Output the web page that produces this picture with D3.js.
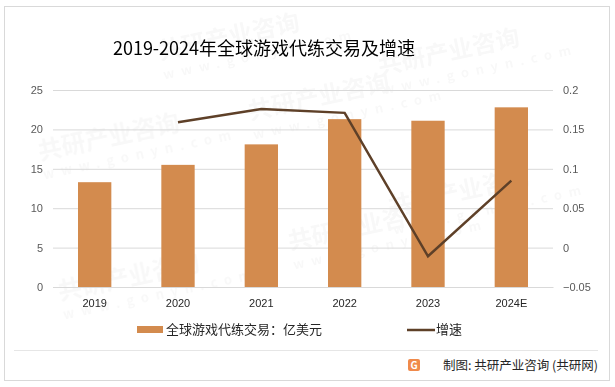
<!DOCTYPE html>
<meta charset='utf-8'>
<style>
  body { margin: 0; background: #fff; font-family: 'Noto Sans CJK SC', 'Noto Sans', sans-serif; }
  .axis text { fill: #595959; font-size: 11px; }
  .xaxis text { fill: #262626; font-size: 11px; }
  .grid line { stroke: #d9d9d9; }
</style>
<body>
<div id='viz'></div>
<script src='https://d3js.org/d3.v7.min.js'></script>
<script>

// chart data
var years  = ['2019', '2020', '2021', '2022', '2023', '2024E'];
var trade  = [13.3, 15.5, 18.1, 21.3, 21.1, 22.8];
var growth = [null, 0.159, 0.176, 0.171, -0.011, 0.085];
var leftTicks  = [0, 5, 10, 15, 20, 25];
var rightTicks = [-0.05, 0, 0.05, 0.1, 0.15, 0.2];

var W = 615, H = 387;
var margin = {top: 90, right: 62, bottom: 100, left: 53},
    width = W - margin.left - margin.right,
    height = H - margin.top - margin.bottom;

var svg = d3.select('#viz').append('svg')
    .attr('width', W)
    .attr('height', H);

// outer frame
svg.append('rect')
    .attr('x', 4.5).attr('y', 6.5)
    .attr('width', 605).attr('height', 374)
    .attr('fill', 'none').attr('stroke', '#d9d9d9');

// faint watermarks
var wm = svg.append('g').attr('fill', '#000').attr('opacity', 0.03)
    .attr('font-weight', 'bold');
[[40, 160], [250, 120], [380, 75], [60, 300], [290, 250], [390, 215], [160, 60]]
  .forEach(function(p) {
    var t = wm.append('g').attr('transform', 'translate(' + p[0] + ',' + p[1] + ') rotate(-12)');
    t.append('text').attr('font-size', 24).text('共研产业咨询');
    t.append('text').attr('y', 20).attr('font-size', 13).attr('letter-spacing', 7).text('www.gonyn.com');
  });

// title
svg.append('text')
    .attr('x', 264).attr('y', 55)
    .attr('text-anchor', 'middle')
    .attr('font-size', 18)
    .attr('fill', '#000')
    .text('2019-2024年全球游戏代练交易及增速');

var g = svg.append('g')
    .attr('transform', 'translate(' + margin.left + ',' + margin.top + ')');

var x = d3.scaleBand().domain(years).range([0, width]).paddingInner(0.6).paddingOuter(0.3);
var y = d3.scaleLinear().domain([0, 25]).range([height, 0]);
var y2 = d3.scaleLinear().domain([-0.05, 0.2]).range([height, 0]);

// gridlines
g.append('g')
    .attr('class', 'grid')
    .call(d3.axisLeft(y).tickValues(leftTicks).tickSize(-width).tickFormat(''))
    .call(function(s) { s.select('.domain').remove(); });

// left axis
g.append('g')
    .attr('class', 'axis')
    .call(d3.axisLeft(y).tickValues(leftTicks).tickSize(0).tickPadding(10))
    .call(function(s) { s.select('.domain').remove(); });

// right axis
g.append('g')
    .attr('class', 'axis')
    .attr('transform', 'translate(' + width + ',0)')
    .call(d3.axisRight(y2).tickValues(rightTicks).tickSize(0).tickPadding(10)
      .tickFormat(function(d) { return d3.format('')(+d.toFixed(2)); }))
    .call(function(s) { s.select('.domain').remove(); });

// x axis
g.append('g')
    .attr('class', 'xaxis')
    .attr('transform', 'translate(0,' + height + ')')
    .call(d3.axisBottom(x).tickSize(0).tickPadding(12))
    .call(function(s) { s.select('.domain').attr('stroke', '#d9d9d9'); });

// bars
g.selectAll('.bar')
    .data(trade)
    .enter().append('rect')
    .attr('class', 'bar')
    .attr('fill', '#d38b4e')
    .attr('x', function(d, i) { return x(years[i]); })
    .attr('width', x.bandwidth())
    .attr('y', function(d) { return y(d); })
    .attr('height', function(d) { return height - y(d); });

// growth line
var line = d3.line()
    .defined(function(d) { return d != null; })
    .x(function(d, i) { return x(years[i]) + x.bandwidth() / 2; })
    .y(function(d) { return y2(d); });

g.append('path')
    .datum(growth)
    .attr('fill', 'none')
    .attr('stroke', '#5e4028')
    .attr('stroke-width', 2.5)
    .attr('d', line);

// legend
var lg = svg.append('g').attr('font-size', 13).attr('fill', '#262626');
lg.append('rect').attr('x', 137).attr('y', 326).attr('width', 26).attr('height', 7).attr('fill', '#d38b4e');
lg.append('text').attr('x', 166).attr('y', 334).text('全球游戏代练交易：亿美元');
lg.append('line').attr('x1', 407).attr('x2', 435).attr('y1', 330).attr('y2', 330)
    .attr('stroke', '#5e4028').attr('stroke-width', 2.5);
lg.append('text').attr('x', 436).attr('y', 334).text('增速');

// separator and source
svg.append('line').attr('x1', 14).attr('x2', 598).attr('y1', 350.5).attr('y2', 350.5)
    .attr('stroke', '#e6e6e6');
var logo = svg.append('g').attr('transform', 'translate(408,359)');
logo.append('rect').attr('width', 12).attr('height', 12).attr('rx', 2).attr('fill', '#f08a4b');
logo.append('text').attr('x', 6).attr('y', 10).attr('text-anchor', 'middle')
    .attr('font-size', 10).attr('font-weight', 'bold').attr('fill', '#fff').text('G');
svg.append('text')
    .attr('x', 598).attr('y', 370)
    .attr('text-anchor', 'end')
    .attr('font-size', 12.5)
    .attr('fill', '#262626')
    .text('制图: 共研产业咨询 (共研网)');

</script>
</body>
